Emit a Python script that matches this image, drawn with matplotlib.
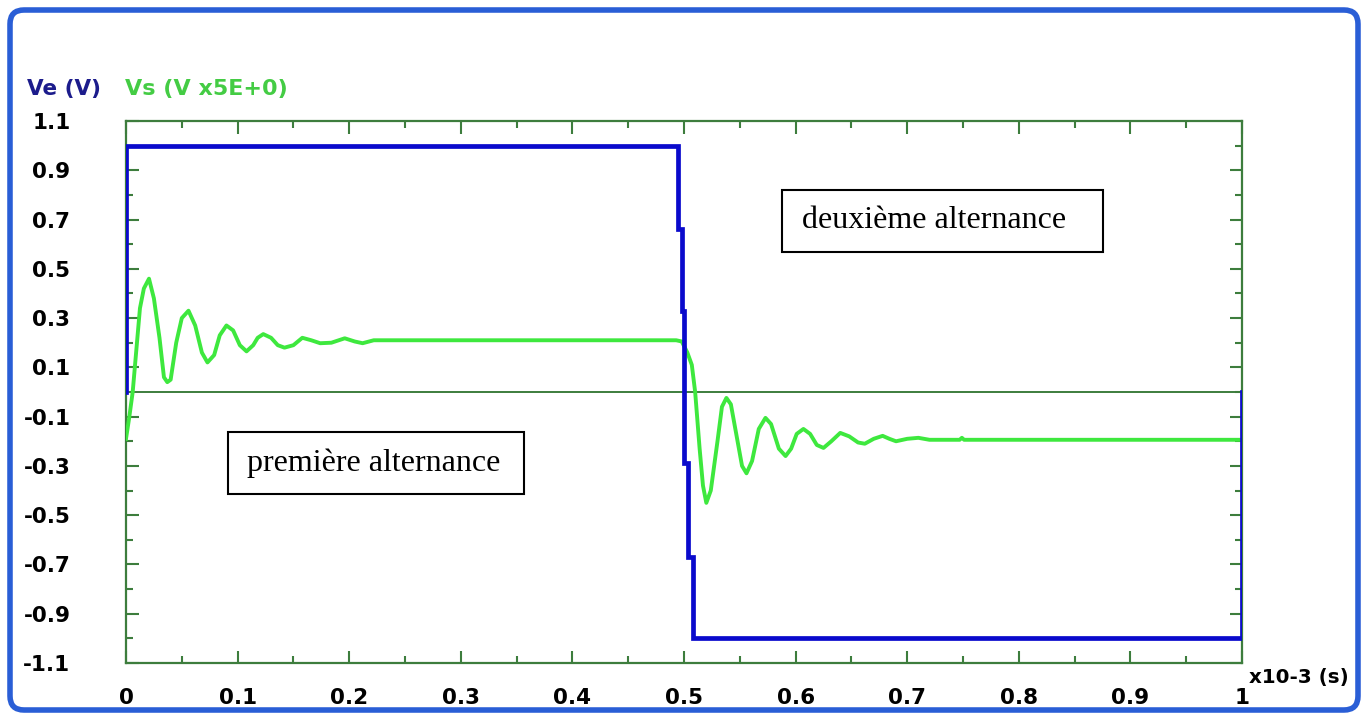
import matplotlib
matplotlib.use("Agg")
import matplotlib.pyplot as plt
from matplotlib.patches import FancyBboxPatch
from matplotlib.ticker import MultipleLocator, FixedLocator

# ---- data (time in ms, i.e. x10-3 s) ----
ve_t = [0.0, 0.0, 0.005, 0.495, 0.495, 0.498, 0.498, 0.500, 0.500, 0.504, 0.504, 0.508, 0.508, 1.0, 1.0]
ve_v = [0.0, 1.0, 1.0, 1.0, 0.66, 0.66, 0.33, 0.33, -0.29, -0.29, -0.67, -0.67, -1.0, -1.0, 0.0]

vs_t = [0.0, 0.003, 0.006, 0.0125, 0.016, 0.0206, 0.025, 0.030, 0.034, 0.037, 0.040, 0.045,
        0.050, 0.056, 0.062, 0.068, 0.073, 0.079, 0.084, 0.090, 0.096, 0.102, 0.108, 0.114,
        0.118, 0.123, 0.130, 0.136, 0.142, 0.150, 0.158, 0.166, 0.174, 0.184, 0.196, 0.205,
        0.212, 0.222, 0.493, 0.498, 0.503, 0.507, 0.510, 0.514, 0.517, 0.520, 0.524, 0.530,
        0.534, 0.538, 0.542, 0.548, 0.552, 0.556, 0.561, 0.567, 0.573, 0.578, 0.585, 0.591,
        0.596, 0.601, 0.607, 0.613, 0.619, 0.625, 0.632, 0.640, 0.648, 0.656, 0.662, 0.670,
        0.678, 0.684, 0.690, 0.700, 0.710, 0.720, 0.747, 0.749, 0.751, 1.0]
vs_v = [-0.19, -0.10, 0.0, 0.34, 0.42, 0.46, 0.38, 0.22, 0.06, 0.04, 0.05, 0.20,
        0.30, 0.33, 0.27, 0.16, 0.12, 0.15, 0.23, 0.27, 0.25, 0.19, 0.165, 0.19,
        0.22, 0.235, 0.22, 0.19, 0.18, 0.19, 0.22, 0.21, 0.198, 0.20, 0.218, 0.205,
        0.198, 0.21, 0.21, 0.205, 0.16, 0.11, 0.0, -0.23, -0.38, -0.45, -0.40, -0.20,
        -0.06, -0.024, -0.05, -0.20, -0.30, -0.33, -0.28, -0.15, -0.105, -0.13, -0.23, -0.26,
        -0.23, -0.17, -0.15, -0.17, -0.215, -0.227, -0.20, -0.166, -0.18, -0.205, -0.21, -0.19,
        -0.178, -0.19, -0.20, -0.19, -0.186, -0.194, -0.194, -0.186, -0.194, -0.194]

x_ticks = [0, 0.1, 0.2, 0.3, 0.4, 0.5, 0.6, 0.7, 0.8, 0.9, 1]
x_tick_labels = ["0", "0.1", "0.2", "0.3", "0.4", "0.5", "0.6", "0.7", "0.8", "0.9", "1"]
y_ticks = [-1.1, -0.9, -0.7, -0.5, -0.3, -0.1, 0.1, 0.3, 0.5, 0.7, 0.9, 1.1]
y_tick_labels = ["-1.1", "-0.9", "-0.7", "-0.5", "-0.3", "-0.1", "0.1", "0.3", "0.5", "0.7", "0.9", "1.1"]

W, H = 1365, 713
fig = plt.figure(figsize=(W / 100, H / 100), dpi=100)
ax = fig.add_axes([126 / W, 1 - 663 / H, (1242 - 126) / W, (663 - 121) / H])

axis_green = "#3d7d3d"
for s in ax.spines.values():
    s.set_color(axis_green)
    s.set_linewidth(1.6)

ax.axhline(0, color=axis_green, lw=1.4, zorder=1)
ax.plot(vs_t, vs_v, color="#3ee83e", lw=2.8, zorder=3)
ax.plot(ve_t, ve_v, color="#0a0acc", lw=3.4, zorder=4, solid_joinstyle="miter")

ax.set_xlim(0, 1)
ax.set_ylim(-1.1, 1.1)

ax.xaxis.set_major_locator(FixedLocator(x_ticks))
ax.xaxis.set_minor_locator(MultipleLocator(0.05))
ax.yaxis.set_major_locator(FixedLocator(y_ticks))
ax.yaxis.set_minor_locator(MultipleLocator(0.1))
ax.set_xticklabels(x_tick_labels)
ax.set_yticklabels(y_tick_labels)

ax.tick_params(which="both", direction="in", top=True, right=True, color=axis_green, width=1.5)
ax.tick_params(which="major", length=9)
ax.tick_params(which="minor", length=5)
ax.tick_params(axis="y", which="major", pad=40, labelsize=15.5)
ax.tick_params(axis="x", which="major", pad=18, labelsize=15.5)
for lab in ax.get_xticklabels() + ax.get_yticklabels():
    lab.set_fontweight("bold")
    lab.set_family("DejaVu Sans")
for lab in ax.get_yticklabels():
    lab.set_horizontalalignment("right")

# axis titles
fig.text(27 / W, 1 - 89 / H, "Ve (V)", color="#1c1c8c", fontsize=15.5, fontweight="bold",
         va="center", ha="left")
fig.text(125 / W, 1 - 89 / H, "Vs (V x5E+0)", color="#44cc44", fontsize=16, fontweight="bold",
         va="center", ha="left")
fig.text(1249 / W, 1 - 678 / H, "x10-3 (s)", color="black", fontsize=14.3, fontweight="bold",
         va="center", ha="left")

# annotation boxes
for (x0, y0, x1, y1, tx, txt) in [(782, 190, 1103, 252, 934, "deuxième alternance"),
                                  (228, 432, 524, 494, 374, "première alternance")]:
    fig.add_artist(FancyBboxPatch((x0, H - y1), x1 - x0, y1 - y0, boxstyle="square,pad=0",
                                  fc="white", ec="black", lw=1.5, transform=None, zorder=5))
    fig.text(tx / W, 1 - (y0 + y1) / 2 / H, txt, family="Liberation Serif",
             fontsize=23, ha="center", va="center", zorder=6)

# window frame
fig.add_artist(FancyBboxPatch((10, 3), 1348, 700, boxstyle="round,pad=0,rounding_size=14",
                              fc="none", ec="#2a5ed6", lw=4, transform=None, zorder=10))

fig.savefig("out.png", dpi=100)
